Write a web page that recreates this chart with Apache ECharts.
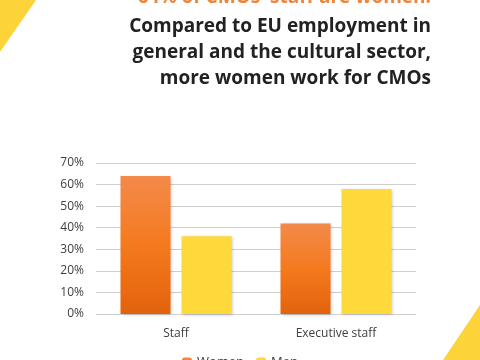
<!DOCTYPE html>
<html><head><meta charset="utf-8">
<script src="https://cdn.jsdelivr.net/npm/echarts@6/dist/echarts.min.js"></script>
<style>html,body{margin:0;padding:0;background:#fff}#c{width:480px;height:360px}</style>
</head><body><div id="c"></div>
<script>
const categories = ['Staff', 'Executive staff'];
const women = [64, 42];
const men = [36, 58];
const seriesNames = ['Women', 'Men'];
const titleLines = ["64% of CMOs' staff are women.", 'Compared to EU employment in', 'general and the cultural sector,', 'more women work for CMOs'];

const chart = echarts.init(document.getElementById('c'));
chart.setOption({
  backgroundColor: '#fff',
  animation: false,
  graphic: [
    { type: 'polygon', shape: { points: [[0,0],[36,0],[0,52]] }, style: { fill: '#FDD33A' } },
    { type: 'polygon', shape: { points: [[480,305],[480,360],[443,360]] }, style: { fill: '#FDD33A' } },
    { type: 'text', right: 49, top: -12, style: { text: titleLines[0], font: 'bold 19px "Open Sans"', fill: '#F0843A', textAlign: 'right' } },
    { type: 'text', right: 49, top: 14, style: { text: titleLines.slice(1).join('\n'), font: 'bold 19px "Open Sans"', lineHeight: 26, fill: '#222', textAlign: 'right' } }
  ],
  legend: {
    bottom: -14, left: 'center', itemWidth: 10, itemHeight: 10, itemGap: 12,
    textStyle: { fontFamily: 'Open Sans', fontSize: 13, color: '#404040' },
    data: seriesNames
  },
  grid: { left: 96, right: 64, top: 163, bottom: 46 },
  xAxis: {
    type: 'category', data: categories,
    axisLine: { show: false }, axisTick: { show: false },
    axisLabel: { fontFamily: 'Open Sans', fontSize: 12, color: '#404040', margin: 14 }
  },
  yAxis: {
    type: 'value', min: 0, max: 70, interval: 10,
    axisLabel: { formatter: '{value}%', fontFamily: 'Open Sans', fontSize: 12, color: '#404040', margin: 12 },
    splitLine: { lineStyle: { color: '#cfcfcf', width: 1 } },
    axisLine: { show: false }, axisTick: { show: false }
  },
  series: [
    { name: seriesNames[0], type: 'bar', data: women, barWidth: 50, barGap: '22%',
      itemStyle: { color: new echarts.graphic.LinearGradient(0,0,0,1,[{offset:0,color:'#F38A4A'},{offset:0.5,color:'#F47A1E'},{offset:1,color:'#E3620C'}]),
        shadowColor: 'rgba(0,0,0,0.2)', shadowBlur: 3, shadowOffsetX: 1, shadowOffsetY: 1 } },
    { name: seriesNames[1], type: 'bar', data: men, barWidth: 50,
      itemStyle: { color: '#FDD93B', shadowColor: 'rgba(0,0,0,0.2)', shadowBlur: 3, shadowOffsetX: 1, shadowOffsetY: 1 } }
  ]
});
</script></body></html>
